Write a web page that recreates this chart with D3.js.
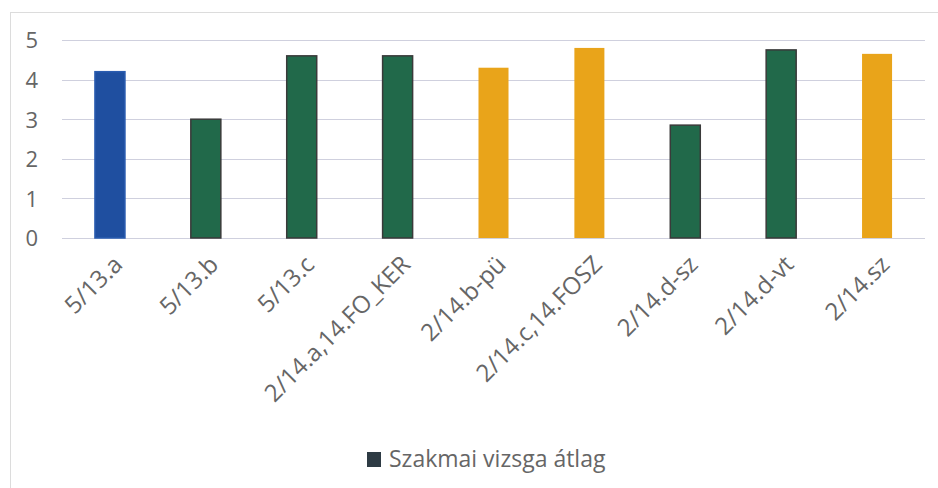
<!DOCTYPE html>
<html>
<head>
<meta charset="utf-8">
<script src="https://cdn.jsdelivr.net/npm/d3@7"></script>
<style>
  html, body { margin: 0; padding: 0; background: #fff; }
  svg { display: block; }
  text { font-family: "Open Sans", "DejaVu Sans", sans-serif; fill: #666666; }
</style>
</head>
<body>
<svg id="chart" width="938" height="488"></svg>
<script>
const categories = ["5/13.a", "5/13.b", "5/13.c", "2/14.a,14.FO_KER", "2/14.b-pü", "2/14.c,14.FOSZ", "2/14.d-sz", "2/14.d-vt", "2/14.sz"];
const values = [4.2, 3.0, 4.6, 4.6, 4.3, 4.8, 2.85, 4.75, 4.65];
const barGroups = [0, 1, 1, 1, 2, 2, 1, 1, 2];
const yTicks = [0, 1, 2, 3, 4, 5];
const seriesName = "Szakmai vizsga átlag";

const fills = ["#1f4fa0", "#21694a", "#e9a41a"];
const strokes = ["#2a5cb0", "#3a3a3a", "none"];

const svg = d3.select("#chart");

// chart frame (scanned border)
svg.append("rect").attr("x", 10.5).attr("y", 12.5).attr("width", 940).attr("height", 490)
  .attr("fill", "none").attr("stroke", "#dcdcdc").attr("stroke-width", 1);

const x = d3.scaleBand().domain(categories).range([62, 925]).paddingInner(0.687).paddingOuter(0.3435);
const y = d3.scaleLinear().domain([0, 5]).range([238, 40]);

// gridlines
svg.append("g").selectAll("line").data(yTicks).join("line")
  .attr("x1", 62).attr("x2", 925)
  .attr("y1", d => Math.round(y(d)) + 0.5).attr("y2", d => Math.round(y(d)) + 0.5)
  .attr("stroke", "#cfd0de").attr("stroke-width", 1.2);

// y axis labels
const yAxis = d3.axisLeft(y).tickValues(yTicks).tickSize(0).tickPadding(0).tickFormat(d3.format("d"));
const ya = svg.append("g").attr("transform", "translate(38,0)").call(yAxis);
ya.select(".domain").remove();
ya.selectAll("text").style("font-size", "22px").attr("fill", "#666666").attr("dy", "0.36em");

// bars
svg.append("g").selectAll("rect").data(values).join("rect")
  .attr("x", (d, i) => x(categories[i]))
  .attr("y", d => y(d))
  .attr("width", x.bandwidth())
  .attr("height", d => y(0) - y(d))
  .attr("fill", (d, i) => fills[barGroups[i]])
  .attr("stroke", (d, i) => strokes[barGroups[i]])
  .attr("stroke-width", 1.5);

// x axis labels
const xAxis = d3.axisBottom(x).tickSize(0).tickPadding(0);
const xa = svg.append("g").attr("transform", "translate(0,238)").call(xAxis);
xa.select(".domain").remove();
xa.selectAll("text")
  .style("font-size", "24px")
  .attr("fill", "#666666")
  .attr("text-anchor", "end")
  .attr("dy", 0)
  .attr("transform", "translate(14,28) rotate(-45)")
  .attr("y", 0).attr("x", 0);

// legend
const lg = svg.append("g");
lg.append("rect").attr("x", 367).attr("y", 452).attr("width", 14).attr("height", 15).attr("fill", "#2e3b44");
lg.append("text").attr("x", 389).attr("y", 467).style("font-size", "23px").attr("fill", "#666666").text(seriesName);
</script>
</body>
</html>
